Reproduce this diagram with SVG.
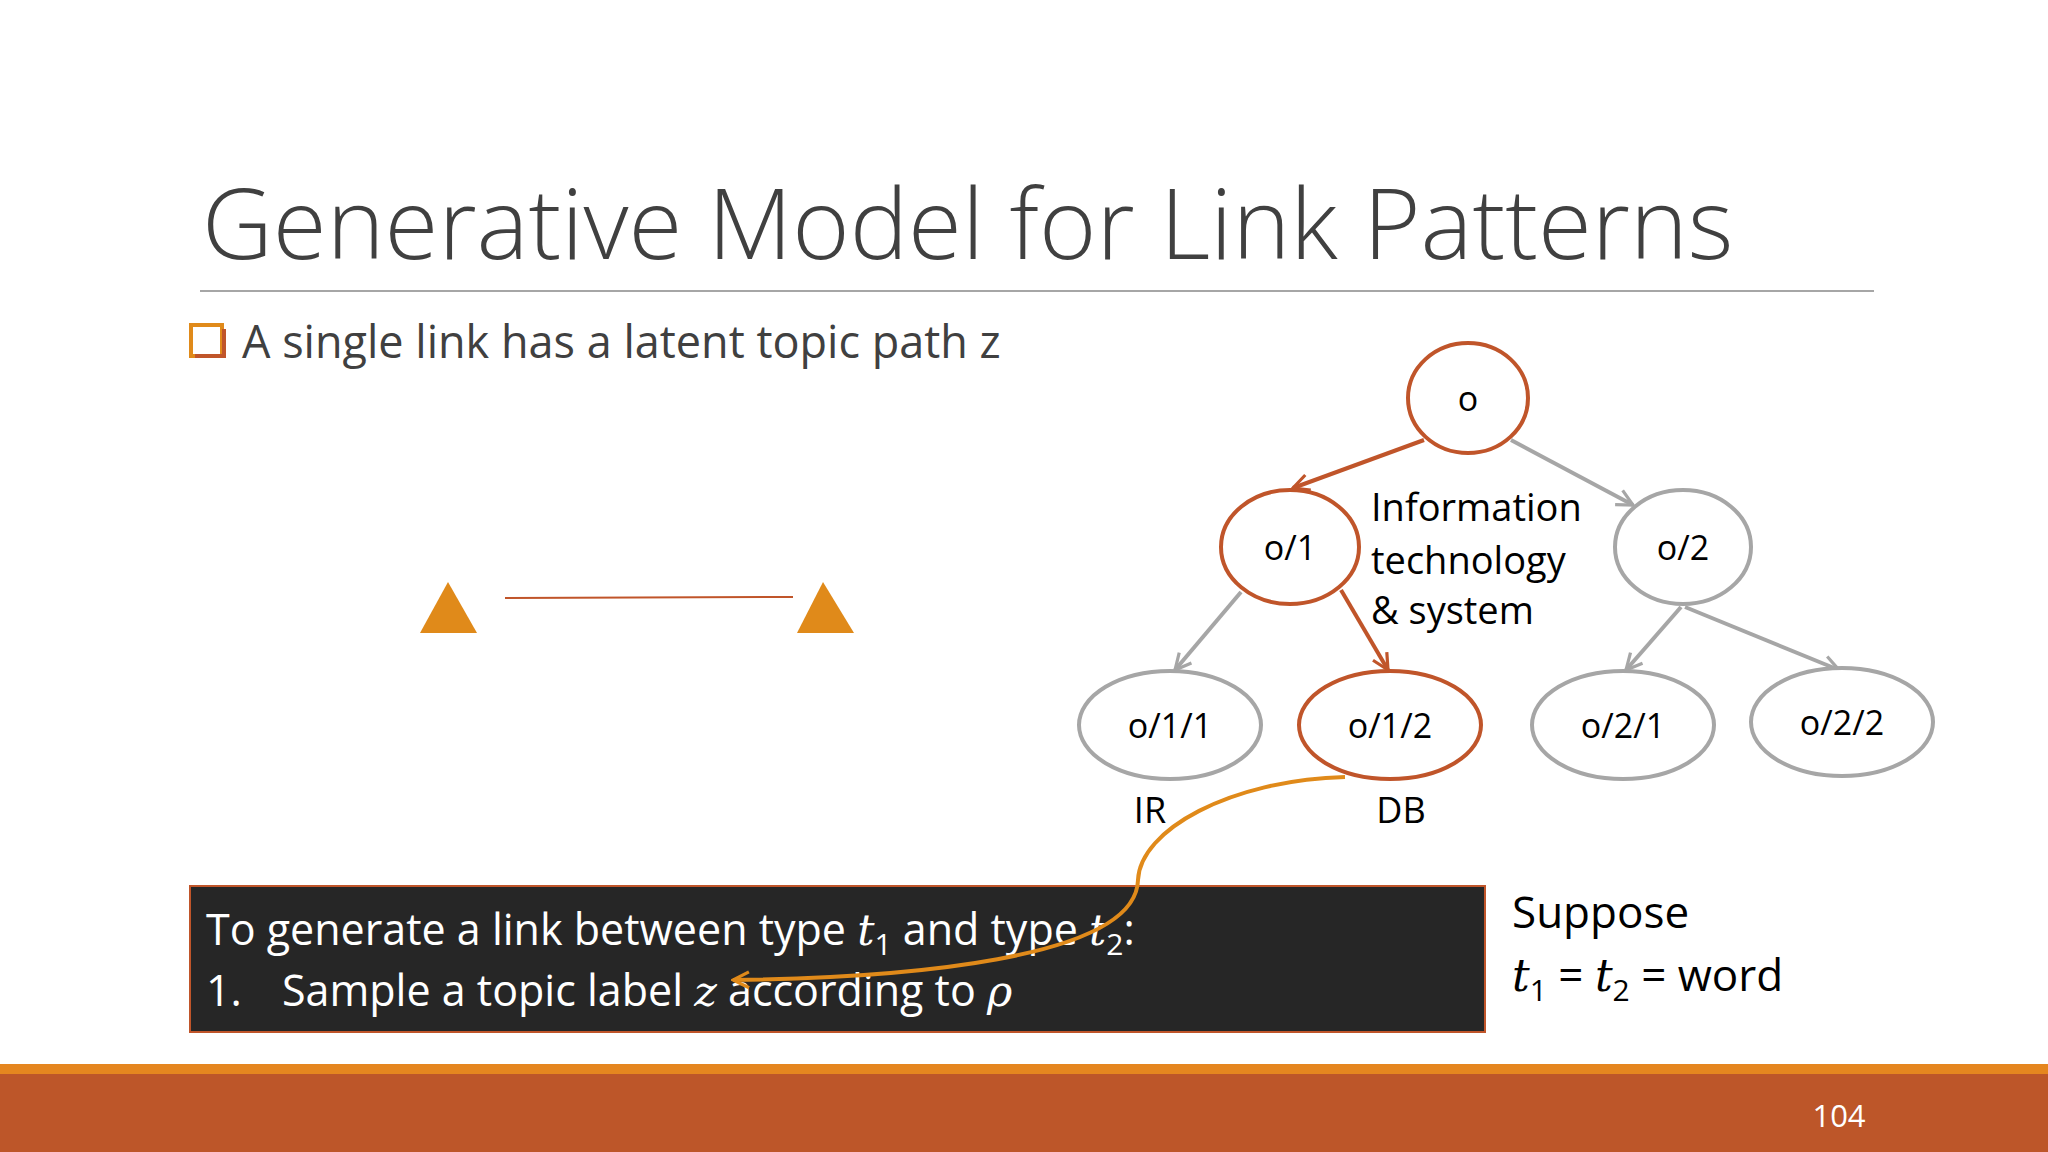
<svg xmlns="http://www.w3.org/2000/svg" width="2048" height="1152" viewBox="0 0 2048 1152">
<defs>
<style>
text{font-family:"Open Sans","Liberation Sans",sans-serif;fill:#000}
.on{fill:#fff;stroke:#c0552a;stroke-width:4}
.off{fill:#fff;stroke:#a6a6a6;stroke-width:4}
.eon{stroke:#c0552a;stroke-width:4;fill:none;marker-end:url(#ar)}
.eoff{stroke:#a6a6a6;stroke-width:4;fill:none;marker-end:url(#ag)}
.nt{font-size:34px;text-anchor:middle}
.m{font-family:"DejaVu Serif","Liberation Serif",serif;font-style:italic}
</style>
<marker id="ar" viewBox="0 0 10 10" refX="9" refY="5" markerWidth="5" markerHeight="5" orient="auto"><path d="M1,1 L9,5 L1,9" fill="none" stroke="#c0552a" stroke-width="1.6"/></marker>
<marker id="ag" viewBox="0 0 10 10" refX="9" refY="5" markerWidth="5" markerHeight="5" orient="auto"><path d="M1,1 L9,5 L1,9" fill="none" stroke="#a6a6a6" stroke-width="1.6"/></marker>
<marker id="ao" viewBox="0 0 10 10" refX="9" refY="5" markerWidth="5" markerHeight="5" orient="auto"><path d="M1,1 L9,5 L1,9" fill="none" stroke="#e08a1a" stroke-width="1.6"/></marker>
</defs>
<rect width="2048" height="1152" fill="#fff"/>
<text x="202" y="259" font-size="98" font-weight="300" style="fill:#404040">Generative Model for Link Patterns</text>
<line x1="200" y1="291" x2="1874" y2="291" stroke="#a6a6a6" stroke-width="2"/>
<rect x="191" y="325" width="31" height="31" fill="none" stroke="#e08a1a" stroke-width="4"/>
<path d="M195 356 H224 V329" fill="none" stroke="#c0552a" stroke-width="4"/>
<text x="242" y="358" font-size="45" style="fill:#404040">A single link has a latent topic path z</text>
<polygon points="448,582 420,633 477,633" fill="#e08a1a"/>
<polygon points="823,582 797,633 854,633" fill="#e08a1a"/>
<line x1="505" y1="598" x2="793" y2="597" stroke="#c0552a" stroke-width="2"/>
<g id="connectors">
<line class="eon" x1="1424" y1="440" x2="1293" y2="488"/>
<line class="eoff" x1="1511" y1="440" x2="1633" y2="505"/>
<line class="eoff" x1="1241" y1="592" x2="1175" y2="670"/>
<line class="eon" x1="1341" y1="590" x2="1388" y2="670"/>
<line class="eoff" x1="1681" y1="607" x2="1626" y2="670"/>
<line class="eoff" x1="1685" y1="607" x2="1839" y2="670"/>
</g>
<g id="n-o"><ellipse class="on" cx="1468" cy="398" rx="60" ry="55"/><text class="nt" x="1468" y="411">o</text></g>
<g id="n-o1"><ellipse class="on" cx="1290" cy="547" rx="69" ry="57"/><text class="nt" x="1290" y="560">o/1</text></g>
<g id="n-o2"><ellipse class="off" cx="1683" cy="547" rx="68" ry="57"/><text class="nt" x="1683" y="560">o/2</text></g>
<g id="n-o11"><ellipse class="off" cx="1170" cy="725" rx="91" ry="54"/><text class="nt" x="1170" y="738">o/1/1</text></g>
<g id="n-o12"><ellipse class="on" cx="1390" cy="725" rx="91" ry="54"/><text class="nt" x="1390" y="738">o/1/2</text></g>
<g id="n-o21"><ellipse class="off" cx="1623" cy="725" rx="91" ry="54"/><text class="nt" x="1623" y="738">o/2/1</text></g>
<g id="n-o22"><ellipse class="off" cx="1842" cy="722" rx="91" ry="54"/><text class="nt" x="1842" y="735">o/2/2</text></g>
<text x="1371" y="521" font-size="38">Information</text>
<text x="1371" y="574" font-size="38">technology</text>
<text x="1371" y="624" font-size="38">&amp; system</text>
<text x="1150" y="823" font-size="36" text-anchor="middle">IR</text>
<text x="1401" y="823" font-size="36" text-anchor="middle">DB</text>
<rect x="190" y="886" width="1295" height="146" fill="#262626" stroke="#c0552a" stroke-width="2"/>
<text x="206" y="945" font-size="43" style="fill:#fff">To generate a link between type <tspan class="m" style="fill:#fff">t</tspan><tspan font-size="30" dy="10" style="fill:#fff">1</tspan><tspan dy="-10" style="fill:#fff"> and type </tspan><tspan class="m" style="fill:#fff">t</tspan><tspan font-size="30" dy="10" style="fill:#fff">2</tspan><tspan dy="-10" style="fill:#fff">:</tspan></text>
<text x="206" y="1006" font-size="43" style="fill:#fff">1.<tspan x="282" style="fill:#fff">Sample a topic label </tspan><tspan class="m" style="fill:#fff">z</tspan><tspan style="fill:#fff"> according to </tspan><tspan class="m" style="fill:#fff">ρ</tspan></text>
<path d="M1345,777 C1230,780 1140,830 1138,880 C1136,960 900,978 733,980" fill="none" stroke="#e08a1a" stroke-width="4" marker-end="url(#ao)"/>
<text x="1512" y="928" font-size="44">Suppose</text>
<text x="1512" y="991" font-size="44"><tspan class="m">t</tspan><tspan font-size="30" dy="10">1</tspan><tspan dy="-10"> = </tspan><tspan class="m">t</tspan><tspan font-size="30" dy="10">2</tspan><tspan dy="-10"> = word</tspan></text>
<rect x="0" y="1064" width="2048" height="10" fill="#e5861f"/>
<rect x="0" y="1074" width="2048" height="78" fill="#bd5629"/>
<text x="1839" y="1127" font-size="31" text-anchor="middle" style="fill:#fff">104</text>
</svg>
